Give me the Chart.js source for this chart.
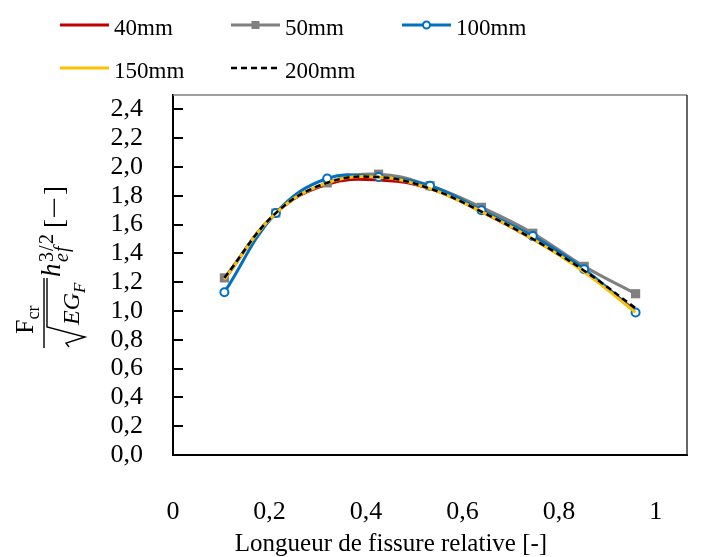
<!DOCTYPE html>
<html>
<head>
<meta charset="utf-8">
<script src="https://cdn.jsdelivr.net/npm/chart.js@4/dist/chart.umd.min.js"></script>
<style>
  html, body { margin: 0; padding: 0; background: #fff; }
  #wrap { width: 702px; height: 557px; }
</style>
</head>
<body>
<div id="wrap"><canvas id="c" width="702" height="557"></canvas></div>
<script>
// ---- data ----
const xValues = [0.1, 0.2, 0.3, 0.4, 0.5, 0.6, 0.7, 0.8, 0.9];
const series40  = [1.22, 1.68, 1.88, 1.91, 1.85, 1.69, 1.50, 1.28, 1.00];
const series50  = [1.23, 1.68, 1.89, 1.95, 1.87, 1.72, 1.54, 1.31, 1.12];
const series100 = [1.13, 1.68, 1.92, 1.93, 1.87, 1.70, 1.52, 1.29, 0.99];
const series150 = [1.22, 1.68, 1.89, 1.93, 1.85, 1.69, 1.50, 1.27, 0.99];
const series200 = [1.23, 1.68, 1.89, 1.93, 1.85, 1.69, 1.50, 1.28, 1.02];
const seriesNames = ['40mm', '50mm', '100mm', '150mm', '200mm'];
const yTickValues = [0, 0.2, 0.4, 0.6, 0.8, 1.0, 1.2, 1.4, 1.6, 1.8, 2.0, 2.2, 2.4];
const xTickValues = [0, 0.2, 0.4, 0.6, 0.8, 1];
const xTitle = 'Longueur de fissure relative [-]';

const FONT = '"Liberation Serif", "Times New Roman", serif';
const pts = arr => arr.map((v, i) => ({x: xValues[i], y: v}));
const fmt = v => {
  if (Math.abs(v) < 1e-9) return '0';
  if (Math.abs(v - 1) < 1e-9) return '1';
  return v.toFixed(1).replace('.', ',');
};

const datasets = [
  {label: seriesNames[0], data: pts(series40), borderColor: '#C00000', backgroundColor: '#C00000',
   borderWidth: 3, pointRadius: 0, order: 5},
  {label: seriesNames[1], data: pts(series50), borderColor: '#808080', backgroundColor: '#808080',
   borderWidth: 3, pointStyle: 'rect', pointRadius: 6.5, pointBorderWidth: 0, order: 4},
  {label: seriesNames[2], data: pts(series100), borderColor: '#0070C0', backgroundColor: '#ffffff',
   pointBorderColor: '#0070C0', pointBackgroundColor: '#ffffff',
   borderWidth: 3, pointStyle: 'circle', pointRadius: 4, pointBorderWidth: 2, order: 3},
  {label: seriesNames[3], data: pts(series150), borderColor: '#FFC000', backgroundColor: '#FFC000',
   borderWidth: 3, pointRadius: 0, order: 2},
  {label: seriesNames[4], data: pts(series200), borderColor: '#000000', backgroundColor: '#000000',
   borderWidth: 2.5, borderDash: [6, 4], pointRadius: 0, order: 1}
];

const decor = {
  id: 'decor',
  afterDatasetsDraw(chart) {
    const ctx = chart.ctx;
    const a = chart.chartArea;
    const ys = chart.scales.y;
    ctx.save();
    ctx.lineWidth = 1.5;
    ctx.strokeStyle = '#7f7f7f';
    ctx.beginPath(); ctx.moveTo(a.left, a.top); ctx.lineTo(a.right, a.top); ctx.stroke();
    ctx.strokeStyle = '#333333';
    ctx.beginPath(); ctx.moveTo(a.right, a.top); ctx.lineTo(a.right, a.bottom); ctx.stroke();
    ctx.strokeStyle = '#000';
    ctx.lineWidth = 2;
    yTickValues.forEach(v => {
      const py = Math.round(ys.getPixelForValue(v));
      ctx.beginPath(); ctx.moveTo(a.left, py); ctx.lineTo(a.left + 10, py); ctx.stroke();
    });
    ctx.restore();
  },
  afterDraw(chart) {
    const ctx = chart.ctx;
    ctx.save();
    // ---- legend ----
    const cols = [60, 231, 402];
    const rows = [25, 68];
    const lineLen = 49;
    chart.data.datasets.forEach((ds, i) => {
      const col = i < 3 ? i : i - 3;
      const row = i < 3 ? 0 : 1;
      const x0 = cols[col], y0 = rows[row];
      ctx.save();
      ctx.strokeStyle = ds.borderColor;
      ctx.lineWidth = ds.borderWidth;
      ctx.setLineDash(ds.borderDash || []);
      ctx.beginPath(); ctx.moveTo(x0, y0); ctx.lineTo(x0 + lineLen, y0); ctx.stroke();
      ctx.setLineDash([]);
      const mx = x0 + lineLen / 2;
      if (ds.pointStyle === 'rect') {
        ctx.fillStyle = ds.backgroundColor;
        ctx.fillRect(mx - 4, y0 - 4, 8, 8);
      } else if (ds.pointStyle === 'circle') {
        ctx.fillStyle = '#fff';
        ctx.strokeStyle = ds.pointBorderColor;
        ctx.lineWidth = 2;
        ctx.beginPath(); ctx.arc(mx, y0, 3.5, 0, Math.PI * 2); ctx.fill(); ctx.stroke();
      }
      ctx.fillStyle = '#000';
      ctx.font = '23px ' + FONT;
      ctx.textBaseline = 'alphabetic';
      ctx.textAlign = 'left';
      ctx.fillText(ds.label, x0 + 54, y0 + 10);
      ctx.restore();
    });

    // ---- x title ----
    ctx.fillStyle = '#000';
    ctx.font = '25px ' + FONT;
    ctx.textAlign = 'center';
    ctx.textBaseline = 'alphabetic';
    ctx.fillText(xTitle, 391, 551);

    // ---- y title (rotated formula) ----
    ctx.save();
    ctx.translate(44, 348);
    ctx.rotate(-Math.PI / 2);
    ctx.fillStyle = '#000';
    ctx.strokeStyle = '#000';
    ctx.textAlign = 'left';
    ctx.textBaseline = 'alphabetic';
    ctx.lineWidth = 1.4;
    ctx.beginPath(); ctx.moveTo(0, 0); ctx.lineTo(70, 0); ctx.stroke();
    ctx.font = '26px ' + FONT;
    const fW = ctx.measureText('F').width;
    ctx.fillText('F', 14, -11);
    ctx.font = '18px ' + FONT;
    ctx.fillText('cr', 14 + fW, -5);
    ctx.beginPath();
    ctx.moveTo(1, 25); ctx.lineTo(5, 22); ctx.lineTo(11, 41); ctx.lineTo(21, 3); ctx.lineTo(70, 3);
    ctx.stroke();
    ctx.font = 'italic 24px ' + FONT;
    ctx.fillText('EG', 23, 35);
    const egW = ctx.measureText('EG').width;
    ctx.font = 'italic 17px ' + FONT;
    ctx.fillText('F', 23 + egW, 41);
    ctx.font = 'italic 27px ' + FONT;
    ctx.fillText('h', 71, 16);
    ctx.font = '20px ' + FONT;
    ctx.fillText('3', 86, 9);
    ctx.fillText('/', 97, 9);
    ctx.fillText('2', 104, 9);
    ctx.font = 'italic 20px ' + FONT;
    ctx.fillText('e', 86, 24);
    ctx.fillText('f', 96, 24);
    ctx.font = '27px ' + FONT;
    ctx.fillText('[', 120, 19);
    ctx.fillText(']', 153, 19);
    ctx.save();
    ctx.translate(129, 19);
    ctx.scale(1.45, 1);
    ctx.fillText('\u2212', 0, 0);
    ctx.restore();
    ctx.restore();

    ctx.restore();
  }
};

new Chart(document.getElementById('c'), {
  type: 'line',
  data: { datasets },
  options: {
    responsive: false,
    animation: false,
    devicePixelRatio: 1,
    layout: { padding: { top: 95, right: 15, left: 0, bottom: 0 } },
    elements: { line: { tension: 0.4, fill: false } },
    plugins: { legend: { display: false }, tooltip: { enabled: false } },
    scales: {
      x: {
        type: 'linear', position: 'bottom', min: 0, max: 1,
        ticks: { display: false, padding: 0 },
        grid: { drawOnChartArea: false, drawTicks: false },
        border: { display: true, color: '#000', width: 2 },
        afterFit: s => { s.height = 0; }
      },
      x2: {
        type: 'linear', position: 'bottom', min: 0, max: 1.065,
        afterBuildTicks: s => { s.ticks = xTickValues.map(v => ({value: v})); },
        ticks: { color: '#000', font: { family: FONT, size: 26 }, padding: 4, maxRotation: 0,
                 autoSkip: false, callback: v => fmt(v) },
        grid: { display: true, drawOnChartArea: false, drawTicks: true, tickLength: 38,
                color: 'rgba(0,0,0,0)' },
        border: { display: false },
        afterFit: s => { s.height = 102; }
      },
      y: {
        position: 'left', min: 0, max: 2.5,
        afterBuildTicks: s => { s.ticks = yTickValues.map(v => ({value: v})); },
        ticks: { color: '#000', font: { family: FONT, size: 26 }, padding: 30, autoSkip: false,
                 callback: v => v.toFixed(1).replace('.', ',') },
        grid: { drawOnChartArea: false, drawTicks: false },
        border: { display: true, color: '#000', width: 2 },
        afterFit: s => { s.width = 173; }
      }
    }
  },
  plugins: [decor]
});
</script>
</body>
</html>
